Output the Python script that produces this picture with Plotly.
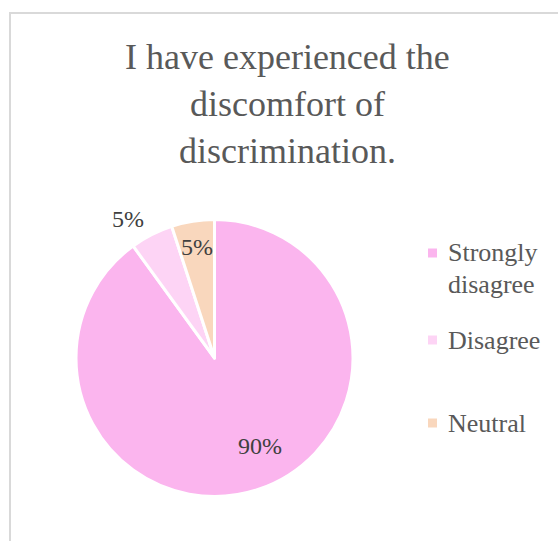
import math
import plotly.graph_objects as go

# Survey responses for the statement
categories = ["Strongly disagree", "Disagree", "Neutral"]
shares = [90, 5, 5]
slice_colors = ["#FBB5EE", "#FDD4F5", "#F9D7BD"]

# label placement: fraction of radius and angular nudge (degrees) from each slice's mid-angle
label_radius = [0.715, 1.18, 0.81]
label_nudge = [-9.3, -5.0, 0.0]

W, H = 558, 541
CX, CY, R = 214.5, 358, 138.5  # pie centre and radius in pixels

fig = go.Figure(
    go.Pie(
        labels=categories,
        values=shares,
        sort=False,
        direction="clockwise",
        rotation=0,
        marker=dict(colors=slice_colors, line=dict(color="white", width=3)),
        textinfo="none",
        showlegend=False,
        domain=dict(x=[(CX - R) / W, (CX + R) / W], y=[1 - (CY + R) / H, 1 - (CY - R) / H]),
        hoverinfo="label+percent",
    )
)

annotations = []
shapes = []

# percentage labels around each slice's mid-angle (clockwise from 12 o'clock)
total = sum(shares)
start = 0.0
for val, rf, nudge in zip(shares, label_radius, label_nudge):
    sweep = 360.0 * val / total
    ang = math.radians(start + sweep / 2 + nudge)
    start += sweep
    px = CX + rf * R * math.sin(ang)
    py = CY - rf * R * math.cos(ang)
    annotations.append(
        dict(
            x=px / W, y=1 - py / H, xref="paper", yref="paper",
            text=f"{val}%", showarrow=False, xanchor="center", yanchor="middle",
            font=dict(family="Liberation Serif", size=24, color="#404040"),
        )
    )

# chart title
annotations.append(
    dict(
        text="I have experienced the<br>discomfort of<br>discrimination.",
        x=287 / W, y=1 - 35 / H, xref="paper", yref="paper",
        xanchor="center", yanchor="top", showarrow=False,
        font=dict(family="Liberation Serif", size=36, color="#595959"),
    )
)

# legend on the right: colour square plus wrapped category name
legend_top = [253, 340, 423]   # centre of first text line of each entry (px)
line_step = 31                 # spacing of wrapped lines (px)
key_size = 9
for name, color, y0 in zip(categories, slice_colors, legend_top):
    words = name.split()
    lines = [" ".join(words[:1]), " ".join(words[1:])] if len(name) > 10 else [name]
    shapes.append(
        dict(
            type="rect", xref="paper", yref="paper",
            x0=428 / W, x1=(428 + key_size) / W,
            y0=1 - (y0 + key_size / 2) / H, y1=1 - (y0 - key_size / 2) / H,
            fillcolor=color, line=dict(width=0),
        )
    )
    for i, line in enumerate(lines):
        annotations.append(
            dict(
                x=446 / W, y=1 - (y0 + i * line_step) / H, xref="paper", yref="paper",
                text=line, showarrow=False, xanchor="left", yanchor="middle",
                font=dict(family="Liberation Serif", size=26, color="#595959"),
            )
        )

# chart-area frame
shapes.append(
    dict(
        type="rect", xref="paper", yref="paper",
        x0=10 / W, x1=1.05, y0=-0.05, y1=1 - 13 / H,
        line=dict(color="#D9D9D9", width=2),
        fillcolor="rgba(0,0,0,0)", layer="below",
    )
)

fig.update_layout(
    width=W,
    height=H,
    margin=dict(l=0, r=0, t=0, b=0, autoexpand=False),
    paper_bgcolor="white",
    plot_bgcolor="white",
    annotations=annotations,
    shapes=shapes,
)

fig.write_html("out.html")
